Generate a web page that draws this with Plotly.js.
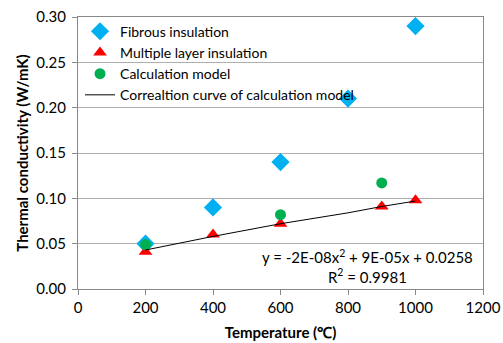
<!DOCTYPE html>
<html>
<head>
<meta charset="utf-8">
<script src="https://cdn.plot.ly/plotly-3.0.1.min.js"></script>
<style>html,body{margin:0;padding:0;background:#fff;}#chart{width:503px;height:343px;}</style>
</head>
<body>
<div id="chart"></div>
<script>
// Fibrous insulation
const fibrousX = [200, 400, 600, 800, 1000];
const fibrousY = [0.050, 0.090, 0.140, 0.210, 0.290];
// Multiple layer insulation
const mliX = [200, 400, 600, 900, 1000];
const mliY = [0.041, 0.060, 0.072, 0.091, 0.098];
// Calculation model
const calcX = [200, 600, 900];
const calcY = [0.049, 0.082, 0.117];
// Correlation curve
const curveX = [200, 400, 600, 800, 900, 1000];
const curveY = [0.043, 0.058, 0.072, 0.084, 0.091, 0.097];

const seriesNames = ["Fibrous insulation", "Multiple layer insulation", "Calculation model", "Correaltion curve of calculation model"];
const eqText = "y = -2E-08x<sup>2</sup> + 9E-05x + 0.0258<br>R<sup>2</sup> = 0.9981";
const xTicks = [0, 200, 400, 600, 800, 1000, 1200];
const yTicks = [0, 0.05, 0.10, 0.15, 0.20, 0.25, 0.30];
const yTickText = ["0.00", "0.05", "0.10", "0.15", "0.20", "0.25", "0.30"];

const FONT = "Lato, 'Open Sans', sans-serif";

const traces = [
  {x: fibrousX, y: fibrousY, name: seriesNames[0], mode: "markers", type: "scatter",
   marker: {symbol: "diamond", size: 14, color: "#00B0F0"}},
  {x: mliX, y: mliY, name: seriesNames[1], mode: "markers", type: "scatter",
   marker: {symbol: "triangle-up", size: 12, color: "#FF0000"}},
  {x: calcX, y: calcY, name: seriesNames[2], mode: "markers", type: "scatter",
   marker: {symbol: "circle", size: 11, color: "#00B050"}},
  {x: curveX, y: curveY, name: seriesNames[3], mode: "lines", type: "scatter",
   line: {color: "#000000", width: 1}}
];

const layout = {
  width: 503, height: 343,
  margin: {l: 78, r: 20, t: 17, b: 54},
  paper_bgcolor: "#ffffff", plot_bgcolor: "#ffffff",
  font: {family: FONT, color: "#000000", size: 15},
  showlegend: true,
  legend: {x: 0.005, y: 1.005, xanchor: "left", yanchor: "top", bgcolor: "rgba(0,0,0,0)",
           font: {family: FONT, size: 14, color: "#000"}, itemwidth: 30, tracegroupgap: 0},
  xaxis: {range: [0, 1200], tickvals: xTicks, ticks: "outside", ticklen: 5, tickcolor: "#888",
          showline: true, linecolor: "#888", linewidth: 1, mirror: true, showgrid: false, zeroline: false,
          tickfont: {family: FONT, size: 15}, fixedrange: true,
          title: {text: "<b>Temperature (℃)</b>", font: {family: FONT, size: 15}, standoff: 12}},
  yaxis: {range: [0, 0.30], tickvals: yTicks, ticktext: yTickText, ticks: "outside", ticklen: 5, tickcolor: "#888",
          showline: true, linecolor: "#888", linewidth: 1, mirror: true, showgrid: true, gridcolor: "#AFAFAF",
          zeroline: false, tickfont: {family: FONT, size: 15}, ticklabelstandoff: 3,
          title: {text: "<b>Thermal conductivity (W/mK)</b>", font: {family: FONT, size: 15}, standoff: 4}},
  annotations: [
    {x: 859, y: 0.0243, xref: "x", yref: "y", text: eqText, showarrow: false,
     font: {family: FONT, size: 15, color: "#000"}, align: "center"}
  ]
};

Plotly.newPlot("chart", traces, layout, {displayModeBar: false, staticPlot: true});
</script>
</body>
</html>
